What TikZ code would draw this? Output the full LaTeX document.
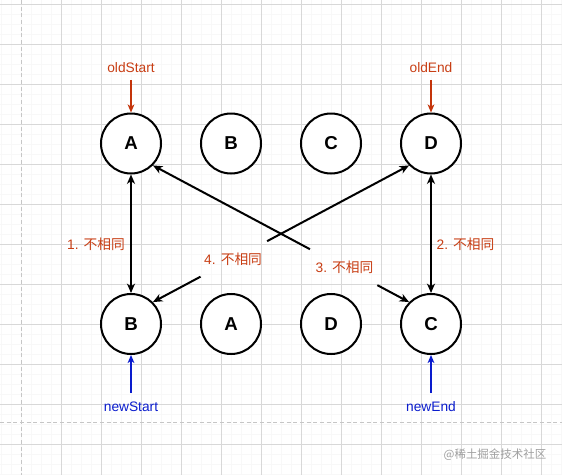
\documentclass[tikz,border=0pt]{standalone}
\usepackage{fontspec}
\setmainfont{Liberation Sans}
\newfontfamily\cjk{Noto Sans CJK SC}
\usetikzlibrary{arrows.meta}
\definecolor{oldred}{RGB}{196,52,10}
\definecolor{txtred}{RGB}{200,62,20}
\definecolor{newblue}{RGB}{10,28,205}
\definecolor{gridc}{RGB}{216,216,216}
\definecolor{gridm}{RGB}{248,248,248}
\tikzset{
  circ/.style={circle, draw=black, line width=1.5pt, minimum size=45pt, inner sep=0pt, fill=white, font=\fontsize{14}{16}\selectfont\bfseries},
  conn/.style={line width=1.5pt, black, arrows={-Stealth[length=7pt, width=6pt, inset=2pt]}},
  dconn/.style={line width=1.5pt, black, arrows={Stealth[length=7pt, width=6pt, inset=2pt]-Stealth[length=7pt, width=6pt, inset=2pt]}},
  redarr/.style={line width=1.5pt, oldred, arrows={-Stealth[length=6pt, width=5pt, inset=1.6pt]}},
  bluearr/.style={line width=1.5pt, newblue, arrows={-Stealth[length=6pt, width=5pt, inset=1.6pt]}},
  oldlbl/.style={text=txtred, inner sep=0pt, font=\fontsize{10.3}{12}\selectfont},
  newlbl/.style={text=newblue, inner sep=0pt, font=\fontsize{10.3}{12}\selectfont},
  difflbl/.style={text=txtred, inner sep=0pt, font=\fontsize{10.3}{12}\selectfont},
  wm/.style={text=gray!75, inner sep=0pt, font=\cjk\fontsize{8.6}{10}\selectfont}
}
\begin{document}
\begin{tikzpicture}[x=0.75pt, y=-0.75pt]
\useasboundingbox (0,0) rectangle (562,475);
\fill[white] (0,0) rectangle (562,475);
% minor grid
\foreach \gx in {1.7,11.7,...,561.7} \draw[gridm, line width=0.4pt] (\gx,0) -- (\gx,475);
\foreach \gy in {4.3,14.3,...,474.3} \draw[gridm, line width=0.4pt] (0,\gy) -- (562,\gy);
% major grid
\foreach \gx in {61.7,101.7,...,541.7} \draw[gridc, line width=0.6pt] (\gx,0) -- (\gx,475);
\foreach \gy in {4.3,44.3,...,444.3} \draw[gridc, line width=0.6pt] (0,\gy) -- (562,\gy);
\draw[gray!45, line width=0.6pt, dash pattern=on 3pt off 2pt] (21.7,0) -- (21.7,475);
\draw[gray!45, line width=0.6pt, dash pattern=on 3pt off 2pt] (0,422.5) -- (562,422.5);

% top row
\node[circ] (A) at (131,143.5) {A};
\node[circ] (B) at (231,143.5) {B};
\node[circ] (C) at (331,143.5) {C};
\node[circ] (D) at (431,143.5) {D};
% bottom row
\node[circ] (nB) at (131,324) {B};
\node[circ] (nA) at (231,324) {A};
\node[circ] (nD) at (331,324) {D};
\node[circ] (nC) at (431,324) {C};

% pointers
\node[oldlbl] (os) at (131,68) {oldStart};
\node[oldlbl] (oe) at (431,68) {oldEnd};
\coordinate (osa) at (131,80);
\coordinate (oea) at (431,80);
\draw[redarr] (osa) -- (A.north);
\draw[redarr] (oea) -- (D.north);
\node[newlbl] (ns) at (131,406.5) {newStart};
\node[newlbl] (ne) at (431,406.5) {newEnd};
\coordinate (nsa) at (131,393);
\coordinate (nea) at (431,393);
\draw[bluearr] (nsa) -- (nB.south);
\draw[bluearr] (nea) -- (nC.south);

% comparisons
\draw[dconn] (A) -- (nB);
\node[difflbl] (l1) at (96,244) {1. {\cjk 不相同}};
\draw[dconn] (D) -- (nC);
\node[difflbl] (l2) at (465.5,244) {2. {\cjk 不相同}};

\path (A.-45) -- (nC.135)
  coordinate[pos=0.613] (g3a) coordinate[pos=0.876] (g3b)
  node[pos=0.748, difflbl] (l3) {3. {\cjk 不相同}};
\draw[conn] (g3a) -- (A.-45);
\draw[conn] (g3b) -- (nC.135);

\path (nB.45) -- (D.225)
  coordinate[pos=0.186] (g4a) coordinate[pos=0.446] (g4b)
  node[pos=0.313, difflbl] (l4) {4. {\cjk 不相同}};
\draw[conn] (g4a) -- (nB.45);
\draw[conn] (g4b) -- (D.225);

\node[wm] (wmk) at (495,455) {@稀土掘金技术社区};
\end{tikzpicture}
\end{document}
